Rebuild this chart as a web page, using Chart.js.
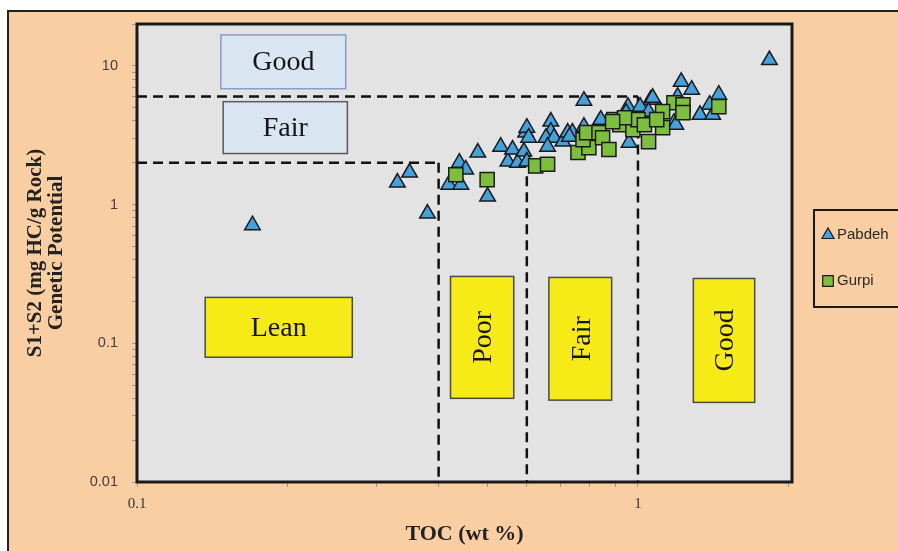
<!DOCTYPE html>
<html><head><meta charset="utf-8">
<script src="https://cdn.jsdelivr.net/npm/chart.js@4/dist/chart.umd.min.js"></script>
<style>html,body{margin:0;padding:0;background:#fff}#wrap{width:898px;height:551px;position:relative}canvas{display:block}</style>
</head><body><div id="wrap"><canvas id="c" width="898" height="551"></canvas></div>
<script>
// ---- data ----
const pabdehTOC  = [0.17,0.331,0.35,0.38,0.419,0.443,0.44,0.453,0.479,0.501,0.532,0.55,0.562,0.575,0.592,0.597,0.60,0.605,0.60,0.67,0.67,0.655,0.68,0.708,0.66,0.724,0.78,0.74,0.836,0.955,0.78,0.843,0.96,0.947,1.22,1.28,1.06,1.2,1.45,1.39,1.33,1.41,1.18,1.01,0.843,1.11,1.05,1.07,1.19,0.73,1.83];
const pabdehS1S2 = [0.71,1.44,1.70,0.86,1.39,1.39,2.0,1.79,2.37,1.14,2.61,2.04,2.49,2.0,2.41,3.3,3.58,3.03,2.04,3.96,3.35,3.03,3.03,2.84,2.61,3.3,5.6,3.3,3.89,5.07,3.64,3.96,2.79,4.59,7.67,6.72,5.7,5.98,6.19,5.24,4.43,4.43,3.89,5.07,4.09,4.67,4.67,5.88,3.76,3.08,11.0];
const gurpiTOC   = [0.433,0.50,0.625,0.66,0.759,0.798,0.777,0.79,0.836,0.85,0.875,0.895,0.92,0.98,0.977,1.18,1.23,1.23,1.12,1.12,1.05,1.0,1.03,0.94,0.89,1.45,1.09];
const gurpiS1S2  = [1.64,1.51,1.90,1.95,2.37,2.57,2.93,3.3,3.3,3.03,2.49,4.09,3.76,4.09,3.46,5.41,5.24,4.59,4.67,3.58,2.84,4.09,3.76,4.22,3.96,5.07,4.09];

const xTickValues = [0.1,0.2,0.3,0.4,0.5,0.6,0.7,0.8,0.9,1,2];
const xTickLabels = ['0.1','','','','','','','','','1',''];
const yTickValues = [0.01,0.02,0.03,0.04,0.05,0.06,0.07,0.08,0.09,0.1,0.2,0.3,0.4,0.5,0.6,0.7,0.8,0.9,1,2,3,4,5,6,7,8,9,10,20];
const yTickLabels = ['0.01','','','','','','','','','0.1','','','','','','','','','1','','','','','','','','','10',''];

// classification boundaries (TOC wt%, S1+S2)
const boundaryLineTOC  = [[0.1,1],[0.1,0.4],[0.4,0.4],[0.6,0.6],[1,1]];
const boundaryLineS1S2 = [[6,6],[2,2],[2,0.01],[1.6,0.01],[6,0.01]];

// zone labels with their extents in data units
const zoneText = ['Good','Fair','Lean','Poor','Fair','Good'];
const zoneX0 = [0.147,0.1486,0.1368,0.4225,0.664,1.29];
const zoneX1 = [0.261,0.263,0.269,0.565,0.886,1.71];
const zoneY0 = [16.7,5.51,0.214,0.303,0.298,0.293];
const zoneY1 = [6.83,2.33,0.0793,0.0401,0.0389,0.0375];
const zoneVertical = [false,false,false,true,true,true];
const zoneStyle = ['blueA','blueB','yellow','yellow','yellow','yellow'];

const ORANGE = '#f9cea2', PLOT_BG = '#e3e3e3', TRI = '#43a1db', SQ = '#7dbf3c';

const lineDatasets = boundaryLineTOC.map((xs,i)=>({
  type:'line', label:'b'+i,
  data: xs.map((x,j)=>({x:x, y:boundaryLineS1S2[i][j]})),
  borderColor:'#111', borderWidth:2.5, borderDash:[10,6], pointRadius:0, fill:false,
  showLine:true, order:5
}));

const bgPlugin = {
  id:'bg',
  beforeDraw(chart){
    const ctx = chart.ctx, a = chart.chartArea;
    ctx.save();
    ctx.fillStyle = '#fff'; ctx.fillRect(0,0,chart.width,chart.height);
    ctx.fillStyle = ORANGE; ctx.fillRect(8,11,chart.width-8,chart.height-11);
    ctx.strokeStyle = '#222'; ctx.lineWidth = 2;
    ctx.beginPath(); ctx.moveTo(8,chart.height); ctx.lineTo(8,11); ctx.lineTo(chart.width,11); ctx.stroke();
    ctx.fillStyle = PLOT_BG; ctx.fillRect(a.left,a.top,a.right-a.left,a.bottom-a.top);
    ctx.restore();
  },
  beforeDatasetsDraw(chart){
    const ctx = chart.ctx, xs = chart.scales.x, ys = chart.scales.y, a = chart.chartArea;
    ctx.save();
    for (let i=0;i<zoneText.length;i++){
      const x0 = xs.getPixelForValue(zoneX0[i]), x1 = xs.getPixelForValue(zoneX1[i]);
      const y0 = ys.getPixelForValue(zoneY0[i]), y1 = ys.getPixelForValue(zoneY1[i]);
      const st = zoneStyle[i];
      ctx.fillStyle = st==='yellow' ? '#f6eb16' : '#dae5f2';
      ctx.strokeStyle = st==='yellow' ? '#4a4a4a' : (st==='blueA' ? '#8d9bcf' : '#5a5a5a');
      ctx.lineWidth = 1.5;
      ctx.fillRect(x0,y0,x1-x0,y1-y0);
      ctx.strokeRect(x0,y0,x1-x0,y1-y0);
      ctx.fillStyle = '#151515';
      ctx.font = '28px "Liberation Serif", "Times New Roman", serif';
      ctx.textAlign = 'center'; ctx.textBaseline = 'middle';
      const cx = (x0+x1)/2, cy = (y0+y1)/2;
      if (zoneVertical[i]) {
        ctx.save(); ctx.translate(cx+1,cy); ctx.rotate(-Math.PI/2); ctx.fillText(zoneText[i],0,1); ctx.restore();
      } else {
        ctx.fillText(zoneText[i],cx,cy+1);
      }
    }
    ctx.strokeStyle = '#1a1a1a'; ctx.lineWidth = 3;
    ctx.strokeRect(a.left,a.top,a.right-a.left,a.bottom-a.top);
    ctx.restore();
  },
  afterDraw(chart){
    const ctx = chart.ctx;
    ctx.save();
    ctx.strokeStyle = '#1a1a1a'; ctx.lineWidth = 2;
    ctx.strokeRect(814,210,100,97);
    const dp = Chart.helpers && Chart.helpers.drawPoint;
    const items = [{t:'Pabdeh',s:'triangle',c:TRI,r:7,y:235},{t:'Gurpi',s:'rect',c:SQ,r:7.5,y:281}];
    items.forEach(it=>{
      ctx.fillStyle = it.c; ctx.strokeStyle = '#1a1a1a'; ctx.lineWidth = 1.2;
      if (dp) dp(ctx,{pointStyle:it.s,rotation:0,radius:it.r,borderWidth:1.2},828,it.y);
      ctx.fillStyle = '#2a2a2a';
      ctx.font = '15px "Liberation Sans", Arial, sans-serif';
      ctx.textAlign = 'left'; ctx.textBaseline = 'middle';
      ctx.fillText(it.t,837,it.y);
    });
    ctx.restore();
  }
};

new Chart(document.getElementById('c'), {
  type:'scatter',
  data:{ datasets:[
    ...lineDatasets,
    { label:'Pabdeh', data: pabdehTOC.map((x,i)=>({x:x,y:pabdehS1S2[i]})),
      pointStyle:'triangle', pointRadius:9, pointHoverRadius:9, backgroundColor:TRI, borderColor:'#1a1a1a', borderWidth:1.5, order:2 },
    { label:'Gurpi', data: gurpiTOC.map((x,i)=>({x:x,y:gurpiS1S2[i]})),
      pointStyle:'rect', pointRadius:10, pointHoverRadius:10, backgroundColor:SQ, borderColor:'#1a1a1a', borderWidth:1.5, order:1 }
  ]},
  options:{
    responsive:false, animation:false, devicePixelRatio:1,
    layout:{ padding:{ top:24, right:106, bottom:0, left:0 } },
    plugins:{ legend:{display:false}, tooltip:{enabled:false} },
    scales:{
      x:{ type:'logarithmic', min:0.1, max:2.03,
        afterBuildTicks:(s)=>{ s.ticks = xTickValues.map(v=>({value:v})); },
        afterFit:(s)=>{ s.height = 69; },
        ticks:{ autoSkip:false, maxRotation:0, padding:8, color:'#333',
          font:{ family:'"Liberation Serif", serif', size:15 },
          callback:(v)=>{ const k = xTickValues.indexOf(v); return k>=0 ? xTickLabels[k] : ''; } },
        grid:{ drawOnChartArea:false, drawTicks:true, tickLength:5, color:'#999' },
        border:{ display:false },
        title:{ display:true, text:'TOC (wt %)', color:'#222', padding:{top:0,bottom:3},
          font:{ family:'"Liberation Serif", serif', size:22, weight:'bold', lineHeight:1.2 } }
      },
      y:{ type:'logarithmic', min:0.01, max:20,
        afterBuildTicks:(s)=>{ s.ticks = yTickValues.map(v=>({value:v})); },
        afterFit:(s)=>{ s.width = 137; },
        ticks:{ autoSkip:false, padding:14, color:'#404040',
          font:{ family:'"Liberation Sans", Arial, sans-serif', size:14.5 },
          callback:(v)=>{ const k = yTickValues.indexOf(v); return k>=0 ? yTickLabels[k] : ''; } },
        grid:{ drawOnChartArea:false, drawTicks:true, tickLength:5, color:'#999' },
        border:{ display:false },
        title:{ display:true, text:['S1+S2 (mg HC/g Rock)','Genetic Potential'], color:'#222', padding:{top:25,bottom:0},
          font:{ family:'"Liberation Serif", serif', size:21, weight:'bold', lineHeight:'21px' } }
      }
    }
  },
  plugins:[bgPlugin]
});
</script></body></html>
